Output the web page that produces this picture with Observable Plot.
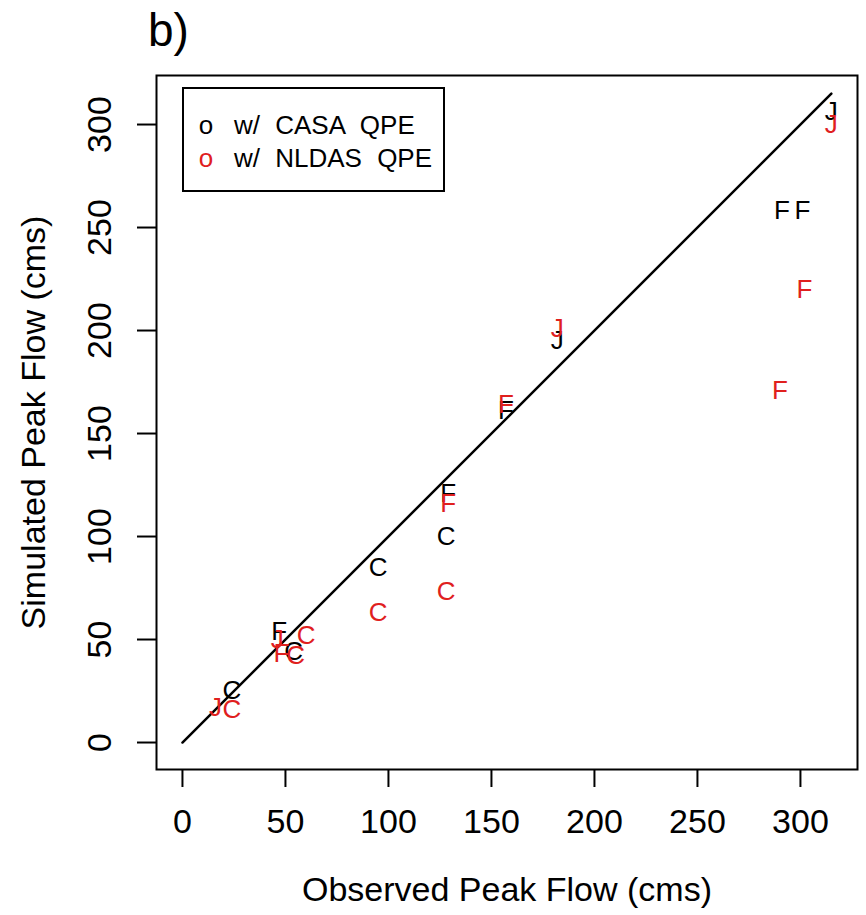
<!DOCTYPE html>
<html><head><meta charset="utf-8">
<script src="https://cdn.jsdelivr.net/npm/d3@7"></script>
<script src="https://cdn.jsdelivr.net/npm/@observablehq/plot@0.6"></script>
<style>
body{margin:0;background:#fff;font-family:"Liberation Sans",Arial,sans-serif;}
#wrap{position:relative;width:866px;height:915px;background:#fff;}
#title{position:absolute;left:148px;top:7px;font-size:46px;line-height:46px;color:#000;}
#chart{position:absolute;left:0;top:60px;}
#legend{position:absolute;left:182px;top:87px;width:263px;height:105px;border:2px solid #000;box-sizing:border-box;background:#fff;}
.row{position:absolute;left:0;height:30px;line-height:30px;font-size:26px;white-space:nowrap;color:#000;}
.sym{position:absolute;left:12px;width:20px;text-align:center;}
.lab{position:absolute;left:50px;word-spacing:8px;}
</style>
</head><body>
<div id="wrap">
  <div id="title">b)</div>
  <div id="chart"></div>
  <div id="legend"></div>
</div>
<script>
// ---- data ----
const casaX     = [315, 291, 301, 182, 157, 129, 128, 95, 47, 54, 24];
const casaY     = [306, 258, 258, 195, 161, 121, 100, 85, 54, 44, 25];
const casaLabel = ["J", "F", "F", "J", "F", "F", "C", "C", "F", "C", "C"];

const nldasX     = [315, 302, 290, 182, 157, 129, 128, 95, 60, 46, 48, 55, 16, 24];
const nldasY     = [300, 220, 171, 201, 164, 116, 73, 63, 52, 50, 43, 42, 17, 16];
const nldasLabel = ["J", "F", "F", "J", "F", "F", "C", "C", "C", "J", "F", "C", "J", "C"];

const diagLine = [0, 315];
const xTicks = [0, 50, 100, 150, 200, 250, 300];
const yTicks = [0, 50, 100, 150, 200, 250, 300];
const xTitle = "Observed Peak Flow (cms)";
const yTitle = "Simulated Peak Flow (cms)";
const legendLabels = ["w/ CASA QPE", "w/ NLDAS QPE"];
const legendColors = ["#000000", "#e0201e"];

const casa = casaX.map((x, i) => ({x, y: casaY[i], t: casaLabel[i]}));
const nldas = nldasX.map((x, i) => ({x, y: nldasY[i], t: nldasLabel[i]}));

const chart = Plot.plot({
  width: 866, height: 855,
  marginLeft: 156, marginRight: 9, marginTop: 15, marginBottom: 146,
  x: {domain: [-12.6, 327.7]},
  y: {domain: [-13.1, 323.8]},
  style: {fontFamily: "'Liberation Sans', Arial, sans-serif", color: "#000", background: "#fff"},
  marks: [
    Plot.frame({stroke: "#000", strokeWidth: 2}),
    Plot.axisX({ticks: xTicks, tickSize: 18, tickPadding: 21, fontSize: 34, strokeWidth: 2,
      label: xTitle, labelAnchor: "center", labelArrow: "none", labelOffset: 131}),
    Plot.axisY({ticks: yTicks, tickSize: 19, tickPadding: 27, tickRotate: -90, fontSize: 34, strokeWidth: 2,
      label: yTitle, labelAnchor: "center", labelArrow: "none", labelOffset: 136}),
    Plot.line(diagLine, {x: d => d, y: d => d, stroke: "#000", strokeWidth: 2.5}),
    Plot.text(casa, {x: "x", y: "y", text: "t", fill: legendColors[0], fontSize: 26}),
    Plot.text(nldas, {x: "x", y: "y", text: "t", fill: legendColors[1], fontSize: 26})
  ]
});
document.getElementById("chart").appendChild(chart);

const legend = document.getElementById("legend");
const rowTops = [21, 54];
legendLabels.forEach((lab, i) => {
  const row = document.createElement("div");
  row.className = "row";
  row.style.top = rowTops[i] + "px";
  row.innerHTML = `<span class="sym" style="color:${legendColors[i]}">o</span><span class="lab">${lab}</span>`;
  legend.appendChild(row);
});
</script>
</body></html>
